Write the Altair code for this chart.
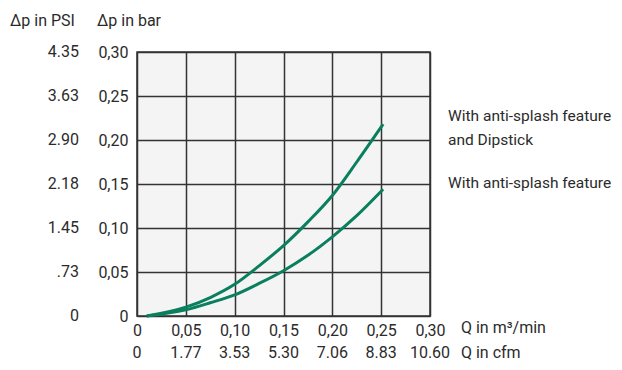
import altair as alt
import pandas as pd

# ---- data ----
q_values = [0.01, 0.05, 0.075, 0.10, 0.125, 0.15, 0.175, 0.20, 0.225, 0.252]
p_dipstick = [0.0, 0.010, 0.021, 0.036, 0.057, 0.080, 0.107, 0.137, 0.175, 0.218]
p_splash = [0.0, 0.007, 0.015, 0.024, 0.037, 0.0515, 0.069, 0.090, 0.114, 0.144]

bar_ticks = [0, 0.05, 0.10, 0.15, 0.20, 0.25, 0.30]
psi_labels = ["0", ".73", "1.45", "2.18", "2.90", "3.63", "4.35"]
q_ticks = [0, 0.05, 0.10, 0.15, 0.20, 0.25, 0.30]
cfm_labels = ["0", "1.77", "3.53", "5.30", "7.06", "8.83", "10.60"]

legend_text = ["With anti-splash feature", "and Dipstick", "With anti-splash feature"]
legend_anchor = [0.227, 0.200, 0.151]

W, H = 293, 264
FONT = "Roboto"
FS = 16
TXT = "#2b2b2b"
GREEN = "#0a7f5e"
GRID = "#333333"

lines = pd.DataFrame(
    {"q": q_values * 2,
     "p": p_dipstick + p_splash,
     "series": ["dip"] * len(q_values) + ["splash"] * len(q_values)}
)

xs = alt.Scale(domain=[0, 0.3], nice=False, zero=True)
ys = alt.Scale(domain=[0, 0.3], nice=False, zero=True)

fmt = "datum.value == 0 ? '0' : replace(format(datum.value, '.2f'), '.', ',')"

x_axis = alt.Axis(values=q_ticks, labelExpr=fmt, title=None, grid=True, gridColor=GRID,
                  gridWidth=1.5, gridOpacity=1, ticks=False, domain=False, labelPadding=6,
                  labelFontSize=FS, labelFont=FONT, labelColor=TXT, labelFlush=False)
y_axis = alt.Axis(values=bar_ticks, labelExpr=fmt, title=None, grid=True, gridColor=GRID,
                  gridWidth=1.5, gridOpacity=1, ticks=False, domain=False, labelPadding=9,
                  labelFontSize=FS, labelFont=FONT, labelColor=TXT, labelFlush=False)

curves = alt.Chart(lines).mark_line(color=GREEN, strokeWidth=3, interpolate="monotone").encode(
    x=alt.X("q:Q", scale=xs, axis=x_axis),
    y=alt.Y("p:Q", scale=ys, axis=y_axis),
    detail="series:N",
)

psi_df = pd.DataFrame({"p": bar_ticks, "label": psi_labels})
psi = alt.Chart(psi_df).mark_text(align="right", baseline="middle", font=FONT, fontSize=FS,
                                  color=TXT).encode(
    x=alt.value(-58), y=alt.Y("p:Q", scale=ys), text="label:N")

cfm_df = pd.DataFrame({"q": q_ticks, "label": cfm_labels})
cfm = alt.Chart(cfm_df).mark_text(align="center", baseline="middle", font=FONT, fontSize=FS,
                                  color=TXT).encode(
    x=alt.X("q:Q", scale=xs), y=alt.value(H + 37), text="label:N")

leg_df = pd.DataFrame({"p": legend_anchor, "label": legend_text})
leg = alt.Chart(leg_df).mark_text(align="left", baseline="middle", font=FONT, fontSize=15.5,
                                  color=TXT).encode(
    x=alt.value(311), y=alt.Y("p:Q", scale=ys), text="label:N")

titles_df = pd.DataFrame({
    "label": ["Δp in PSI", "Δp in bar", "Q in m³/min", "Q in cfm"],
    "px": [-127, -40, 324, 324],
    "py": [-31, -31, H + 12, H + 37],
})
titles = alt.Chart(titles_df).mark_text(align="left", baseline="middle", font=FONT, fontSize=FS,
                                        color=TXT).encode(
    x=alt.X("px:Q", scale=None), y=alt.Y("py:Q", scale=None), text="label:N")

chart = alt.layer(curves, psi, cfm, leg, titles).properties(
    width=W, height=H,
    autosize=alt.AutoSizeParams(type="none"),
    padding={"left": 129, "top": 44, "right": 184, "bottom": 46},
    background="white",
).configure_view(fill="#f4f4f4", stroke=GRID, strokeWidth=1.5)

chart.save("out.html", embed_options={"renderer": "svg", "actions": False})
